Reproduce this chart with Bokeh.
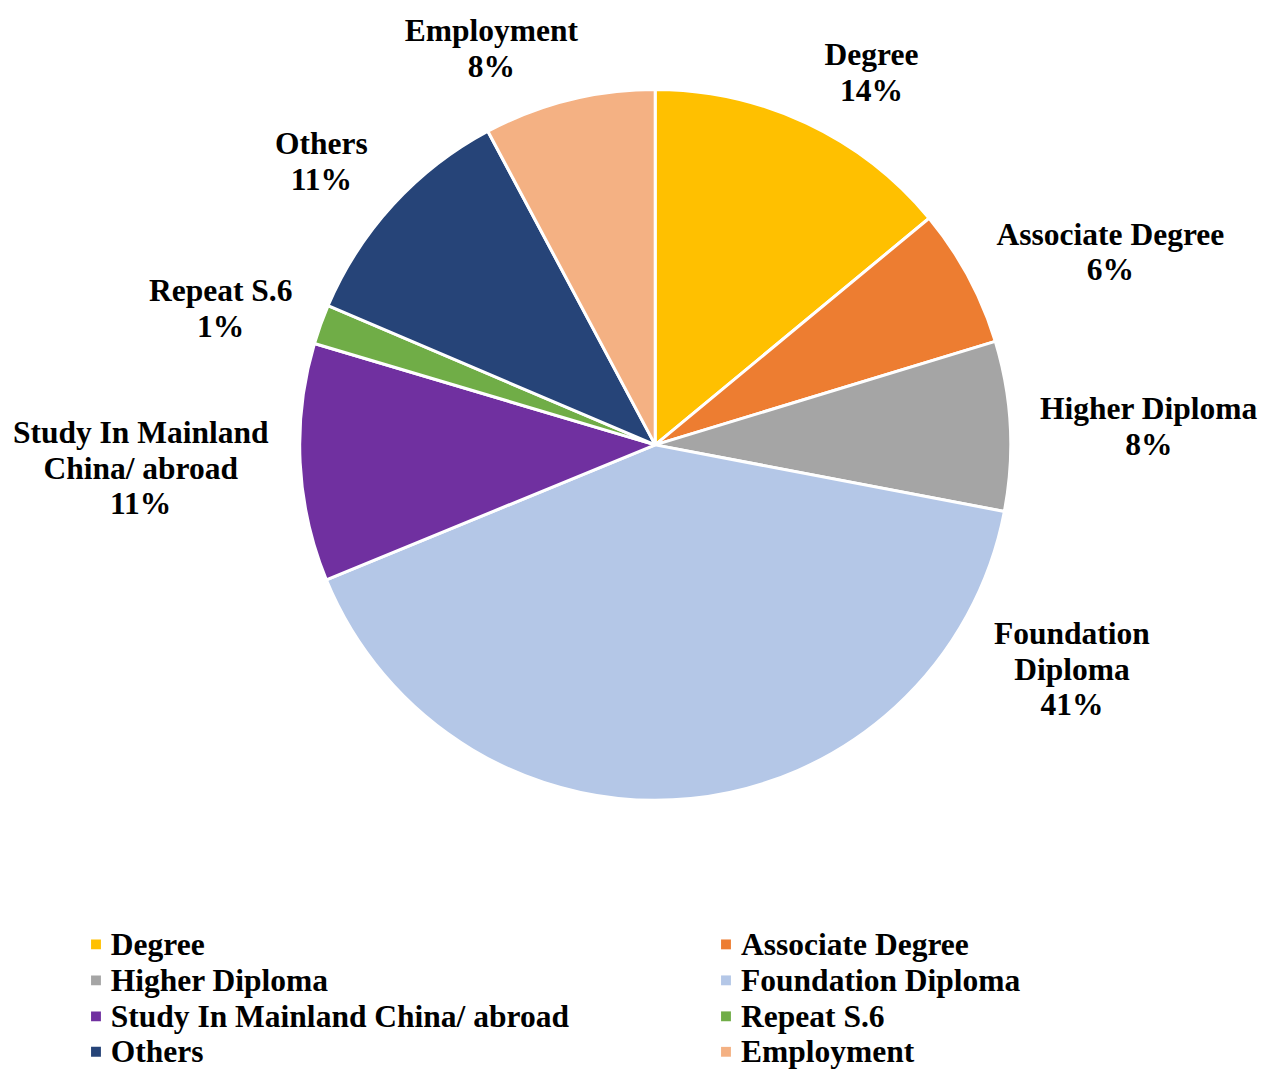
import math
from bokeh.plotting import figure
from bokeh.models import Range1d, ColumnDataSource
from bokeh.core.properties import value
from bokeh.embed import file_html
from bokeh.resources import INLINE

# ---- data ----
categories = ["Degree", "Associate Degree", "Higher Diploma", "Foundation Diploma",
              "Study In Mainland China/ abroad", "Repeat S.6", "Others", "Employment"]
shares = [14.0, 6.3, 7.7, 40.8, 10.8, 1.8, 10.8, 7.8]
pct_labels = ["14%", "6%", "8%", "41%", "11%", "1%", "11%", "8%"]
label_lines = [["Degree"], ["Associate Degree"], ["Higher Diploma"], ["Foundation", "Diploma"],
               ["Study In Mainland", "China/ abroad"], ["Repeat S.6"], ["Others"], ["Employment"]]
colors = ["#FFC000", "#ED7D31", "#A5A5A5", "#B4C7E7", "#7030A0", "#70AD47", "#264478", "#F4B183"]

# ---- layout (reference pixel space 1276 x 1087, drawn on a 1260 x 1071 figure) ----
W, H = 1260, 1071
RW, RH = 1276, 1087
def Y(py):
    return RH - py
def X(px):
    return px

CX, CY, R = 663, 451, 360
label_pos = [(882, 55), (1124, 237), (1163, 414), (1085, 642),
             (142, 438), (223, 294), (325, 145), (497, 30)]
LINE = 36.5
FONT = value("Liberation Serif")
FS = "31.5px"

p = figure(width=W, height=H, output_backend="svg", toolbar_location=None,
           x_range=Range1d(0, RW), y_range=Range1d(0, RH), min_border=0)
p.axis.visible = False
p.grid.visible = False
p.outline_line_color = None
p.background_fill_color = "white"
p.border_fill_color = "white"

total = sum(shares)
starts, ends = [], []
c = 0.0
for s in shares:
    starts.append(math.pi / 2 - 2 * math.pi * c / total)
    c += s
    ends.append(math.pi / 2 - 2 * math.pi * c / total)

src = ColumnDataSource(dict(x=[X(CX)] * len(shares), y=[Y(CY)] * len(shares),
                            start=starts, end=ends, color=colors))
p.wedge(x="x", y="y", radius=R, start_angle="start", end_angle="end", direction="clock",
        fill_color="color", line_color="white", line_width=3, source=src)

# data labels
tx, ty, tt = [], [], []
for (lx, ly), lines, pct in zip(label_pos, label_lines, pct_labels):
    for k, t in enumerate(lines + [pct]):
        tx.append(X(lx)); ty.append(Y(ly + k * LINE)); tt.append(t)
p.text(x=tx, y=ty, text=tt, text_font=FONT, text_font_style="bold", text_font_size=FS,
       text_align="center", text_baseline="middle", text_color="black")

# legend
row_y = [958, 994.5, 1031, 1067]
sq_x = [96.7, 734.7]
txt_x = [111.7, 750]
lx, ly, lxt, lc = [], [], [], []
for i, cat in enumerate(categories):
    col, row = i % 2, i // 2
    lx.append(X(sq_x[col])); ly.append(Y(row_y[row])); lc.append(colors[i])
    lxt.append(X(txt_x[col]))
p.rect(x=lx, y=ly, width=10, height=10, fill_color=lc, line_color=None)
p.text(x=lxt, y=ly, text=categories, text_font=FONT, text_font_style="bold", text_font_size=FS,
       text_align="left", text_baseline="middle", text_color="black")

open("out.html", "w").write(file_html(p, INLINE))
